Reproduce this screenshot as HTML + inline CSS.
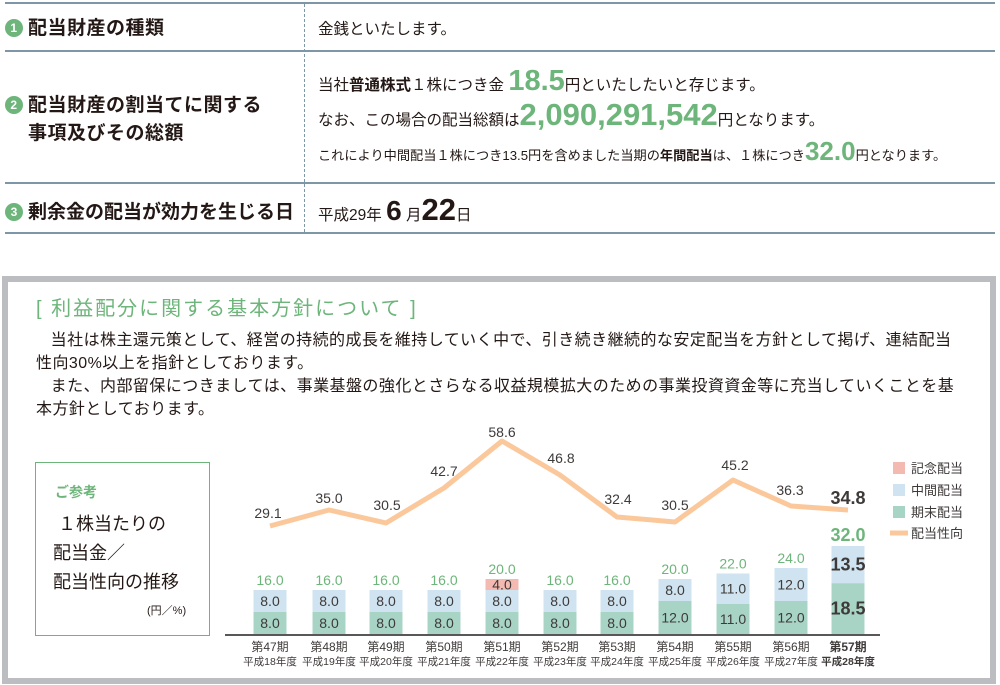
<!DOCTYPE html>
<html><head><meta charset="utf-8"><style>
body{margin:0;width:1000px;height:685px;background:#fff;position:relative;overflow:hidden;font-family:"Liberation Sans","Noto Sans CJK JP",sans-serif;color:#231815}
.a{position:absolute;white-space:nowrap}
.hl{position:absolute;left:5px;width:990px;height:2px;background:#7d97a6}
.g{color:#6db57a;font-weight:bold}
.num{display:inline-block;width:18px;height:18px;border-radius:50%;background:#6db57a;color:#fff;font-size:12px;text-align:center;line-height:18px;vertical-align:2px;margin-right:5px}
</style></head><body>
<div class="hl" style="top:2px"></div>
<div class="hl" style="top:50px"></div>
<div class="hl" style="top:182px"></div>
<div class="hl" style="top:232px"></div>
<div class="a" style="left:304px;top:4px;height:228px;border-left:1px dashed #7d97a6"></div>
<div class="a" style="left:5px;top:13px;font-size:19px;font-weight:bold;letter-spacing:0.5px"><span class="num">1</span>配当財産の種類</div>
<div class="a" style="left:318px;top:17px;font-size:15.5px">金銭といたします。</div>
<div class="a" style="left:5px;top:92px;font-size:19px;font-weight:bold;line-height:28px;letter-spacing:0.5px"><span class="num">2</span>配当財産の割当てに関する<br><span style="display:inline-block;width:23px"></span>事項及びその総額</div>
<div class="a" style="left:318px;top:65px;font-size:15.5px">当社<b>普通株式</b>１株につき金 <span class="g" style="font-size:29px">18.5</span>円といたしたいと存じます。</div>
<div class="a" style="left:318px;top:97px;font-size:15.5px">なお、この場合の配当総額は<span class="g" style="font-size:31px">2,090,291,542</span>円となります。</div>
<div class="a" style="left:318px;top:136px;font-size:13.2px">これにより中間配当１株につき13.5円を含めました当期の<b>年間配当</b>は、１株につき<span class="g" style="font-size:26px">32.0</span>円となります。</div>
<div class="a" style="left:5px;top:197px;font-size:19px;font-weight:bold"><span class="num">3</span>剰余金の配当が効力を生じる日</div>
<div class="a" style="left:318px;top:192px;font-size:15.5px">平成29年 <b style="font-size:28px">6</b> 月<b style="font-size:31px">22</b>日</div>

<div class="a" style="left:2px;top:276px;width:982px;height:396px;border:6px solid #bcbdc0"></div>
<div class="a" style="left:36px;top:292px;font-size:20px;color:#6db57a;letter-spacing:2px">[ 利益配分に関する基本方針について ]</div>
<div class="a" style="left:36px;top:329px;font-size:16px;line-height:23px;letter-spacing:0.45px">&nbsp;&nbsp;&nbsp;当社は株主還元策として、経営の持続的成長を維持していく中で、引き続き継続的な安定配当を方針として掲げ、連結配当<br>性向30%以上を指針としております。<br>&nbsp;&nbsp;&nbsp;また、内部留保につきましては、事業基盤の強化とさらなる収益規模拡大のための事業投資資金等に充当していくことを基<br>本方針としております。</div>
<div class="a" style="left:35px;top:462px;width:173px;height:172px;border:1px solid #6db57a"></div>
<div class="a" style="left:55px;top:482px;font-size:14px;color:#6db57a;font-weight:bold">ご参考</div>
<div class="a" style="left:53px;top:510px;font-size:18px;line-height:29px">&nbsp;１株当たりの<br>配当金／<br>配当性向の推移</div>
<div class="a" style="left:147px;top:602px;font-size:11px">(円／%)</div>

<svg class="a" style="left:0;top:0" width="1000" height="685" font-family="Liberation Sans,Noto Sans CJK JP,sans-serif">
<g id="bars"></g>
<line x1="225" y1="635" x2="880" y2="635" stroke="#595757" stroke-width="2"/>
<polyline fill="none" stroke="#fbc89c" stroke-width="5" stroke-linejoin="round" points="270,526 329,510 386,523 444,488 502,441 560,475 617,517 675,522 733,480 791,506 848,510"/>
<g font-size="14" fill="#3e3a39" text-anchor="middle">
<text x="268" y="518">29.1</text><text x="329" y="503">35.0</text><text x="387" y="510">30.5</text><text x="444" y="476">42.7</text><text x="502" y="437">58.6</text><text x="561" y="463">46.8</text><text x="618" y="504">32.4</text><text x="675" y="510">30.5</text><text x="735" y="470">45.2</text><text x="790" y="495">36.3</text>
<text x="848" y="504" font-size="18" font-weight="bold">34.8</text>
</g>
<g font-size="13" fill="#3e3a39">
<rect x="893" y="462" width="12" height="12" fill="#f4b9b0"/><text x="911" y="473">記念配当</text>
<rect x="893" y="484" width="12" height="12" fill="#cfe3f0"/><text x="911" y="495">中間配当</text>
<rect x="893" y="506" width="12" height="12" fill="#a8d4c6"/><text x="911" y="517">期末配当</text>
<line x1="890" y1="533" x2="908" y2="533" stroke="#fbc89c" stroke-width="5"/><text x="911" y="538">配当性向</text>
</g>
</svg>
<script>
var d=[[8,8,0,47,18],[8,8,0,48,19],[8,8,0,49,20],[8,8,0,50,21],[8,8,4,51,22],[8,8,0,52,23],[8,8,0,53,24],[12,8,0,54,25],[11,11,0,55,26],[12,12,0,56,27],[18.5,13.5,0,57,28]];
var xs=[270,329,386,444,502,560,617,675,733,791,848],k=2.75,b=634,s='';
d.forEach(function(r,i){var x=xs[i],w=33,l=x-w/2,last=i==10;
var h1=r[0]*k,h2=r[1]*k,h3=r[2]*k;var fs=last?18:14,fw=last?'bold':'normal';
s+='<rect x="'+l+'" y="'+(b-h1)+'" width="'+w+'" height="'+h1+'" fill="#a8d4c6"/>';
s+='<rect x="'+l+'" y="'+(b-h1-h2)+'" width="'+w+'" height="'+h2+'" fill="#cfe3f0"/>';
if(h3)s+='<rect x="'+l+'" y="'+(b-h1-h2-h3)+'" width="'+w+'" height="'+h3+'" fill="#f4b9b0"/><text x="'+x+'" y="'+(b-h1-h2-h3/2+5)+'" font-size="14" text-anchor="middle" fill="#3e3a39">4.0</text>';
s+='<text x="'+x+'" y="'+(b-h1/2+(last?6:5))+'" font-size="'+fs+'" font-weight="'+fw+'" text-anchor="middle" fill="#3e3a39">'+r[0].toFixed(1)+'</text>';
s+='<text x="'+x+'" y="'+(b-h1-h2/2+(last?6:5))+'" font-size="'+fs+'" font-weight="'+fw+'" text-anchor="middle" fill="#3e3a39">'+r[1].toFixed(1)+'</text>';
var t=r[0]+r[1]+r[2];
s+='<text x="'+x+'" y="'+(b-t*k-5)+'" font-size="'+(last?18:14)+'" font-weight="'+fw+'" text-anchor="middle" fill="#6db57a">'+t.toFixed(1)+'</text>';
s+='<text x="'+x+'" y="'+(b+17)+'" font-size="12" font-weight="'+fw+'" text-anchor="middle" fill="#3e3a39">第'+r[3]+'期</text>';
s+='<text x="'+x+'" y="'+(b+31)+'" font-size="10.5" font-weight="'+fw+'" text-anchor="middle" fill="#3e3a39">平成'+r[4]+'年度</text>';});
document.getElementById('bars').innerHTML=s;
</script>
</body></html>
